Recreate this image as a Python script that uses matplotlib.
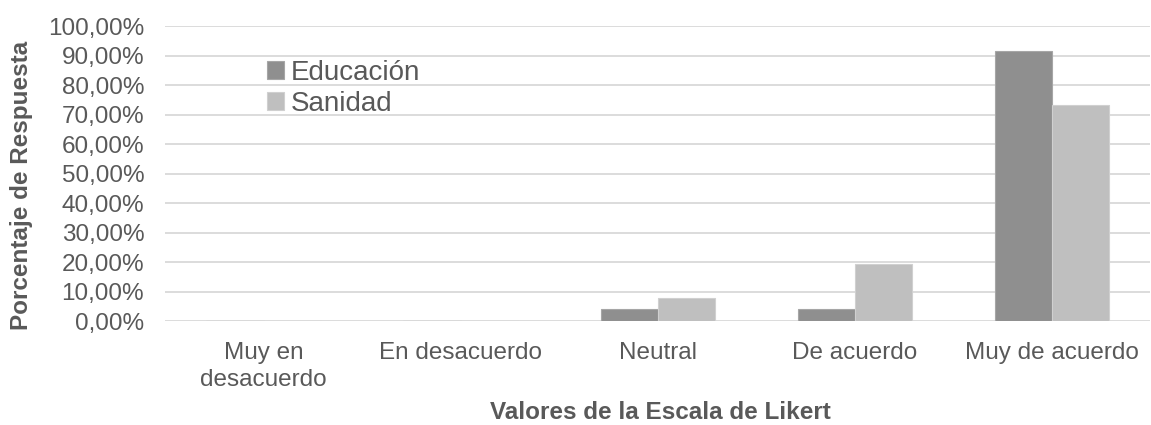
import numpy as np
import matplotlib
matplotlib.use("Agg")
import matplotlib.pyplot as plt
from matplotlib.ticker import FuncFormatter

categories = ["Muy en\ndesacuerdo", "En desacuerdo", "Neutral", "De acuerdo", "Muy de acuerdo"]
educacion = [0.0, 0.0, 4.17, 4.17, 91.67]
sanidad = [0.0, 0.0, 7.69, 19.23, 73.08]

plt.rcParams['font.family'] = ['Liberation Sans', 'DejaVu Sans']
grey_text = '#595959'

fig = plt.figure(figsize=(11.51, 4.25), dpi=100)
ax = fig.add_axes([0.1434, 0.2447, 0.856, 0.6941])

x = np.arange(len(categories))
w = 0.29
ax.bar(x - w / 2, educacion, w, color='#8f8f8f', edgecolor='#a6a6a6', linewidth=0.8, label='Educación', zorder=3)
ax.bar(x + w / 2, sanidad, w, color='#bfbfbf', edgecolor='#d0d0d0', linewidth=0.8, label='Sanidad', zorder=3)

ax.set_xlim(-0.5, len(categories) - 0.5)
ax.set_ylim(0, 100)
ax.set_yticks(np.arange(0, 101, 10))
ax.yaxis.set_major_formatter(FuncFormatter(lambda v, p: f"{v:.2f}%".replace('.', ',')))
ax.set_xticks(x)
ax.set_xticklabels(categories, fontsize=17.5, color=grey_text, linespacing=1.3)
ax.tick_params(axis='y', labelsize=17.5, labelcolor=grey_text, length=0, pad=15)
ax.tick_params(axis='x', length=0, pad=15)

ax.grid(axis='y', color='#d9d9d9', linewidth=1.3, zorder=0)
for s in ax.spines.values():
    s.set_visible(False)

ax.set_ylabel('Porcentaje de Respuesta', fontsize=17.5, fontweight='bold', color=grey_text)
ax.yaxis.set_label_coords(-0.134, 0.46)
ax.set_xlabel('Valores de la Escala de Likert', fontsize=17.5, fontweight='bold', color=grey_text)
ax.xaxis.set_label_coords(0.5025, -0.27)

leg = ax.legend(loc='upper left', bbox_to_anchor=(0.232, 0.86), bbox_transform=fig.transFigure,
                frameon=False, fontsize=20, handlelength=0.6, handleheight=0.6,
                handletextpad=0.25, labelspacing=0.2, borderaxespad=0, borderpad=0)
for t in leg.get_texts():
    t.set_color(grey_text)

fig.savefig('out.png', dpi=100)
